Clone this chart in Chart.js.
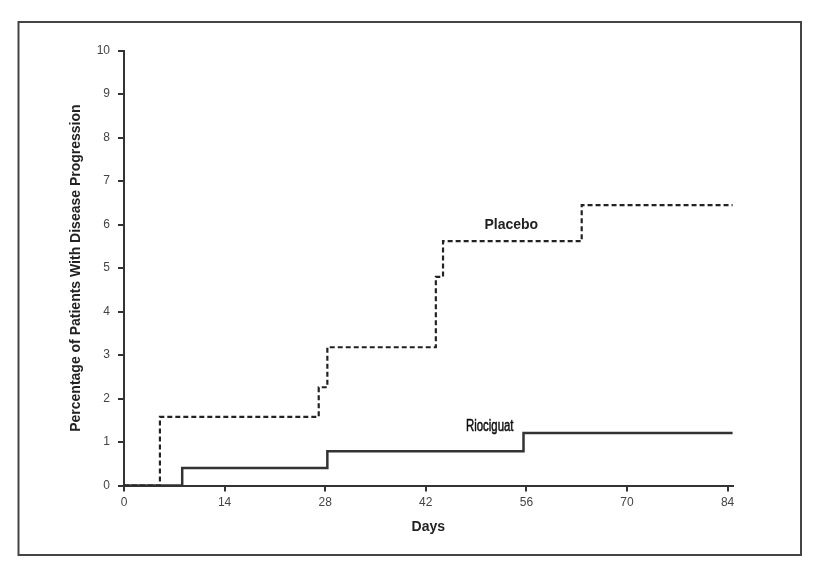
<!DOCTYPE html>
<html>
<head>
<meta charset="utf-8">
<script src="https://cdn.jsdelivr.net/npm/chart.js@4.4.1/dist/chart.umd.min.js"></script>
<style>
  html, body { margin: 0; padding: 0; background: #ffffff; }
  canvas { display: block; }
</style>
</head>
<body>
<canvas id="c" width="817" height="583"></canvas>
<script>
// ---- data ----
const xTickValues = [0, 14, 28, 42, 56, 70, 84];
const yTickValues = [0, 1, 2, 3, 4, 5, 6, 7, 8, 9, 10];

const placeboDays = [0, 5.0, 27.1, 28.3, 43.4, 44.4, 63.7, 84.8];
const placeboPct  = [0, 1.58, 2.26, 3.18, 4.80, 5.62, 6.45, 6.45];

const rioDays = [0, 8.1, 28.3, 55.6, 84.8];
const rioPct  = [0, 0.40, 0.79, 1.21, 1.21];

const seriesNames = ['Placebo', 'Riociguat'];
const xTitle = 'Days';
const yTitle = 'Percentage of Patients With Disease Progression';

// label anchors in data units
const labelAnchors = [
  { text: 'Placebo',   day: 53.9, pct: 5.99 },
  { text: 'Riociguat', day: 50.9, pct: 1.35 }
];

function toPoints(xs, ys) { return xs.map((x, i) => ({ x: x, y: ys[i] })); }

const frame = {
  id: 'frame',
  afterDraw(chart) {
    const ctx = chart.ctx;
    ctx.save();
    ctx.strokeStyle = '#444';
    ctx.lineWidth = 2;
    ctx.strokeRect(18.5, 22, 782.5, 533);
    ctx.restore();
  }
};

const seriesLabels = {
  id: 'seriesLabels',
  afterDatasetsDraw(chart) {
    const ctx = chart.ctx;
    const xs = chart.scales.x, ys = chart.scales.y;
    ctx.save();
    ctx.fillStyle = '#222';
    ctx.textAlign = 'center';
    ctx.textBaseline = 'middle';
    // Placebo
    let a = labelAnchors[0];
    ctx.font = 'bold 14px "Liberation Sans", Arial, sans-serif';
    ctx.fillText(a.text, xs.getPixelForValue(a.day), ys.getPixelForValue(a.pct));
    // Riociguat (condensed)
    a = labelAnchors[1];
    const px = xs.getPixelForValue(a.day), py = ys.getPixelForValue(a.pct);
    ctx.translate(px, py);
    ctx.scale(0.76, 1.08);
    ctx.font = '15px "Liberation Sans", Arial, sans-serif';
    ctx.fillStyle = '#111';
    ctx.strokeStyle = '#111';
    ctx.lineWidth = 0.5;
    ctx.fillText(a.text, 0, 0);
    ctx.strokeText(a.text, 0, 0);
    ctx.restore();
  }
};

new Chart(document.getElementById('c'), {
  type: 'line',
  data: {
    datasets: [
      {
        label: seriesNames[0],
        data: toPoints(placeboDays, placeboPct),
        stepped: true,
        borderColor: '#222',
        borderWidth: 2.2,
        borderDash: [5, 3],
        pointRadius: 0,
        fill: false
      },
      {
        label: seriesNames[1],
        data: toPoints(rioDays, rioPct),
        stepped: true,
        borderColor: '#333',
        borderWidth: 2.5,
        pointRadius: 0,
        fill: false
      }
    ]
  },
  options: {
    responsive: false,
    animation: false,
    events: [],
    layout: { padding: { top: 50.7, right: 84.4, bottom: 0, left: 0 } },
    plugins: { legend: { display: false }, tooltip: { enabled: false } },
    scales: {
      x: {
        type: 'linear',
        min: 0,
        max: 84.7,
        afterFit(s) { s.height = 97.5; },
        afterBuildTicks(s) { s.ticks = xTickValues.map(v => ({ value: v })); },
        ticks: {
          color: '#444',
          font: { family: '"Liberation Sans", Arial, sans-serif', size: 12 },
          padding: 4,
          maxRotation: 0
        },
        grid: { drawOnChartArea: false, drawTicks: true, tickLength: 6, color: '#333', lineWidth: 2 },
        border: { display: true, color: '#333', width: 2 },
        title: {
          display: true,
          text: xTitle,
          color: '#222',
          font: { family: '"Liberation Sans", Arial, sans-serif', size: 14, weight: 'bold' },
          padding: { top: 0, bottom: 47.6 }
        }
      },
      y: {
        type: 'linear',
        min: 0,
        max: 10,
        afterFit(s) { s.width = 124; },
        afterBuildTicks(s) { s.ticks = yTickValues.map(v => ({ value: v })); },
        ticks: {
          color: '#444',
          font: { family: '"Liberation Sans", Arial, sans-serif', size: 12 },
          padding: 8
        },
        grid: { drawOnChartArea: false, drawTicks: true, tickLength: 6, color: '#333', lineWidth: 2 },
        border: { display: true, color: '#333', width: 2 },
        title: {
          display: true,
          text: yTitle,
          color: '#222',
          font: { family: '"Liberation Sans", Arial, sans-serif', size: 14, weight: 'bold' },
          padding: { top: 67.6, bottom: 0 }
        }
      }
    }
  },
  plugins: [frame, seriesLabels]
});
</script>
</body>
</html>
